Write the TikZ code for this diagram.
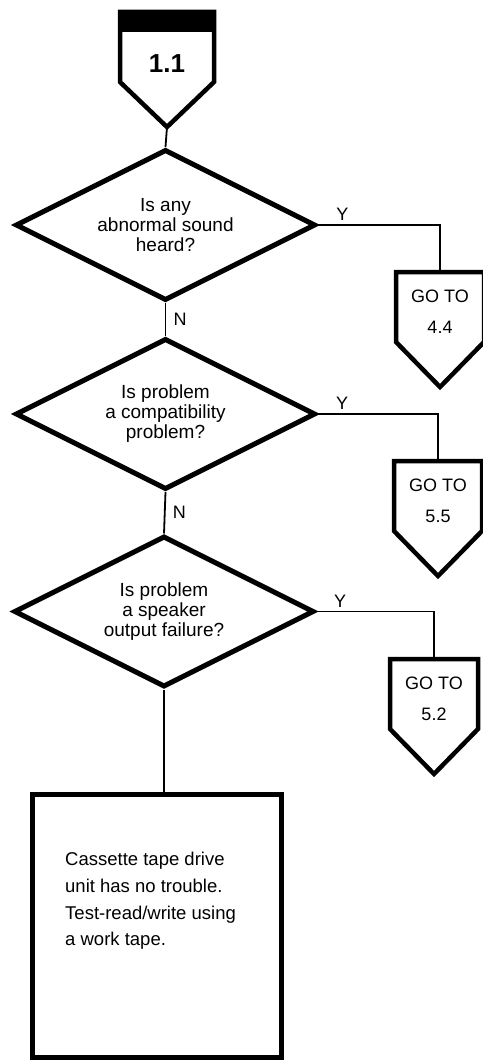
\documentclass[tikz,border=0pt]{standalone}
\usepackage{fontspec}
\setmainfont{Liberation Sans}
\usetikzlibrary{shapes.geometric, calc}
\newcommand{\tipdepth}{45}
\newcommand{\gostrut}{\rule{0pt}{22pt}}

\begin{document}
\begin{tikzpicture}[
    x=1pt,
    y=1pt,
    font=\fontsize{19}{20}\selectfont,
    decision/.style={diamond, draw, line width=5pt, inner sep=0pt, aspect=2,
      minimum width=300pt, minimum height=151pt, align=center},
    gotobox/.style={minimum width=88pt, minimum height=70pt, inner sep=0pt,
      outer sep=0pt, align=center, font=\fontsize{18}{22}\selectfont},
    flow/.style={line width=1.8pt},
    answer/.style={font=\fontsize{18}{20}\selectfont}
]
\useasboundingbox (0,0) rectangle (482,-1062);

% Start marker
\node[gotobox, minimum width=94pt, font=\fontsize{26}{28}\selectfont\bfseries,
  text height=52pt, text depth=0pt] (start) at (167,-47) {1.1};
\fill (start.north west) rectangle ($(start.north east)+(0,-20)$);
\coordinate (starttip) at ($(start.south)+(0,-\tipdepth)$);

% Decisions
\node[decision] (d1) at (165.5,-225) {Is any\\abnormal sound\\heard?};
\node[decision] (d2) at (165.5,-414) {Is problem\\a compatibility\\problem?};
\node[decision] (d3) at (164,-611.5) {Is problem\\a speaker\\output failure?};

% Jumps
\node[gotobox] (goA) at (440,-307) {\gostrut GO TO\\[9pt]4.4};
\node[gotobox] (goB) at (438,-496) {\gostrut GO TO\\[9pt]5.5};
\node[gotobox] (goC) at (434,-694) {\gostrut GO TO\\[9pt]5.2};

% Pentagon outlines
\foreach \g in {start,goA,goB,goC}{
  \draw[line width=4.5pt, line join=miter]
    (\g.north west) -- (\g.south west) -- ($(\g.south)+(0,-\tipdepth)$)
    -- (\g.south east) -- (\g.north east) -- cycle;
}

% End box
\node[draw, line width=5pt, minimum width=249pt, minimum height=263pt]
  (box) at (156.5,-925.5) {};
\node[anchor=north west, inner sep=0pt, align=left,
  font=\fontsize{18.5}{26.7}\selectfont] (boxtext) at (65,-852)
  {Cassette tape drive\\unit has no trouble.\\Test-read/write using\\a work tape.};

% Connectors
\draw[flow] (starttip) -- (d1.north);
\draw[flow] (d1.south) -- node[answer, right=4pt] {N} (d2.north);
\draw[flow] (d2.south) -- node[answer, right=4pt] {N} (d3.north);
\draw[flow] (d3.south) -- (d3.south |- box.north);
\draw[flow] (d1.east) -| node[answer, pos=0.1, above] {Y} (goA.north);
\draw[flow] (d2.east) -| node[answer, pos=0.1, above] {Y} (goB.north);
\draw[flow] (d3.east) -| node[answer, pos=0.1, above] {Y} (goC.north);

\end{tikzpicture}
\end{document}
